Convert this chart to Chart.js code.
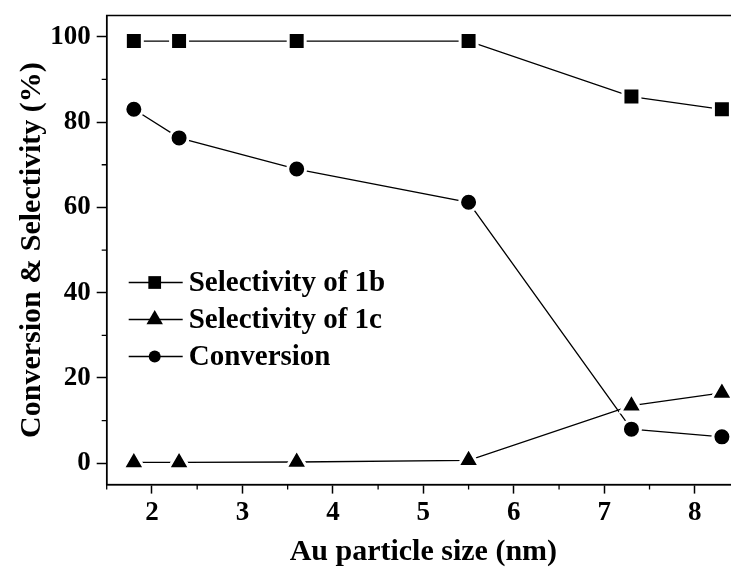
<!DOCTYPE html>
<html>
<head>
<meta charset="utf-8">
<script src="https://cdn.jsdelivr.net/npm/chart.js@4"></script>
<style>
  html, body { margin: 0; padding: 0; overflow: hidden; background: #fff; }
</style>
</head>
<body>
<canvas id="chart" width="760" height="567"></canvas>
<script>
const SERIF = "'Liberation Serif', 'Times New Roman', serif";

// values
const particleSize = [1.8, 2.3, 3.6, 5.5, 7.3, 8.3];
const selectivity1b = [99, 99, 99, 99, 86, 83];
const selectivity1c = [0.2, 0.2, 0.3, 0.7, 13.5, 16.5];
const conversion = [83, 76.3, 69, 61.2, 8, 6.2];
const xTickValues = [2, 3, 4, 5, 6, 7, 8];
const yTickValues = [0, 20, 40, 60, 80, 100];
const xMinorTicks = [1.5, 2.5, 3.5, 4.5, 5.5, 6.5, 7.5, 8.5];
const yMinorTicks = [10, 30, 50, 70, 90];

function points (ys) {
  return particleSize.map((x, i) => ({ x, y: ys[i] }))
}

function series (label, ys, style, radius) {
  return {
    label,
    data: points(ys),
    borderColor: '#000',
    borderWidth: 1.3,
    backgroundColor: '#000',
    pointStyle: style,
    pointRadius: radius,
    pointHoverRadius: radius,
    pointBackgroundColor: '#000',
    pointBorderColor: '#fff',
    pointBorderWidth: 3,
    tension: 0
  }
}

// frame on top of the plot and minor tick marks
const framePlugin = {
  id: 'frame',
  afterDraw (chart) {
    const { ctx, chartArea: a, scales } = chart
    ctx.save()
    ctx.strokeStyle = '#000'
    ctx.lineWidth = 1.5
    ctx.strokeRect(a.left, a.top, a.right - a.left, a.bottom - a.top)
    ctx.lineWidth = 1.3
    ctx.beginPath()
    xMinorTicks.forEach(v => {
      const px = scales.x.getPixelForValue(v)
      ctx.moveTo(px, a.bottom)
      ctx.lineTo(px, a.bottom + 5)
    })
    yMinorTicks.forEach(v => {
      const py = scales.y.getPixelForValue(v)
      ctx.moveTo(a.left, py)
      ctx.lineTo(a.left - 5, py)
    })
    ctx.stroke()
    ctx.restore()
  }
}

function drawMarker (ctx, style, x, y, r) {
  ctx.beginPath()
  if (style === 'rect') {
    const s = r * Math.SQRT1_2
    ctx.rect(x - s, y - s, 2 * s, 2 * s)
  } else if (style === 'triangle') {
    ctx.moveTo(x, y - r)
    ctx.lineTo(x + r * Math.sin(Math.PI / 3), y + r / 2)
    ctx.lineTo(x - r * Math.sin(Math.PI / 3), y + r / 2)
    ctx.closePath()
  } else {
    ctx.arc(x, y, r, 0, Math.PI * 2)
  }
  ctx.fill()
}

// origin-style legend: short line with marker in the middle
const legendPlugin = {
  id: 'lineLegend',
  afterDraw (chart) {
    const { ctx, chartArea: a } = chart
    const x0 = a.left + 22, y0 = a.top + 267, row = 37
    ctx.save()
    ctx.font = `bold 29px ${SERIF}`
    ctx.textBaseline = 'middle'
    ctx.fillStyle = '#000'
    ctx.strokeStyle = '#000'
    ctx.lineWidth = 1.3
    chart.data.datasets.forEach((ds, i) => {
      const y = y0 + i * row
      ctx.beginPath()
      ctx.moveTo(x0, y)
      ctx.lineTo(x0 + 54, y)
      ctx.stroke()
      drawMarker(ctx, ds.pointStyle, x0 + 26, y, ds.pointRadius - 3)
      ctx.fillText(ds.label, x0 + 60, y + 1)
    })
    ctx.restore()
  }
}

new Chart(document.getElementById('chart'), {
  type: 'line',
  data: {
    datasets: [
      series('Selectivity of 1b', selectivity1b, 'rect', 12),
      series('Selectivity of 1c', selectivity1c, 'triangle', 12.5),
      series('Conversion', conversion, 'circle', 9)
    ]
  },
  options: {
    responsive: false,
    animation: false,
    layout: { padding: { top: 14, right: 20, left: 0, bottom: 0 } },
    plugins: {
      legend: { display: false },
      tooltip: { enabled: false }
    },
    scales: {
      x: {
        type: 'linear',
        min: 1.5,
        max: 8.5,
        afterBuildTicks: s => { s.ticks = xTickValues.map(value => ({ value })) },
        afterFit: s => { s.height = 82.4; s.paddingLeft = 0; s.paddingRight = 0 },
        grid: { drawOnChartArea: false, tickLength: 9, tickWidth: 1.5, tickColor: '#000' },
        border: { color: '#000', width: 1.5 },
        ticks: { color: '#000', padding: 3, maxRotation: 0, font: { family: SERIF, size: 27, weight: 'bold' } },
        title: {
          display: true,
          text: 'Au particle size (nm)',
          color: '#000',
          padding: 0,
          font: { family: SERIF, size: 30, weight: 'bold', lineHeight: 1 }
        }
      },
      y: {
        min: -5,
        max: 105,
        afterBuildTicks: s => { s.ticks = yTickValues.map(value => ({ value })) },
        afterFit: s => { s.width = 106.7; s.paddingTop = 0; s.paddingBottom = 0 },
        grid: { drawOnChartArea: false, tickLength: 10, tickWidth: 1.5, tickColor: '#000' },
        border: { color: '#000', width: 1.5 },
        ticks: { color: '#000', padding: 6, font: { family: SERIF, size: 27, weight: 'bold' } },
        title: {
          display: true,
          text: 'Conversion & Selectivity (%)',
          color: '#000',
          padding: { top: 17, bottom: 0 },
          font: { family: SERIF, size: 30, weight: 'bold', lineHeight: 1 }
        }
      }
    }
  },
  plugins: [framePlugin, legendPlugin]
})
</script>
</body>
</html>
